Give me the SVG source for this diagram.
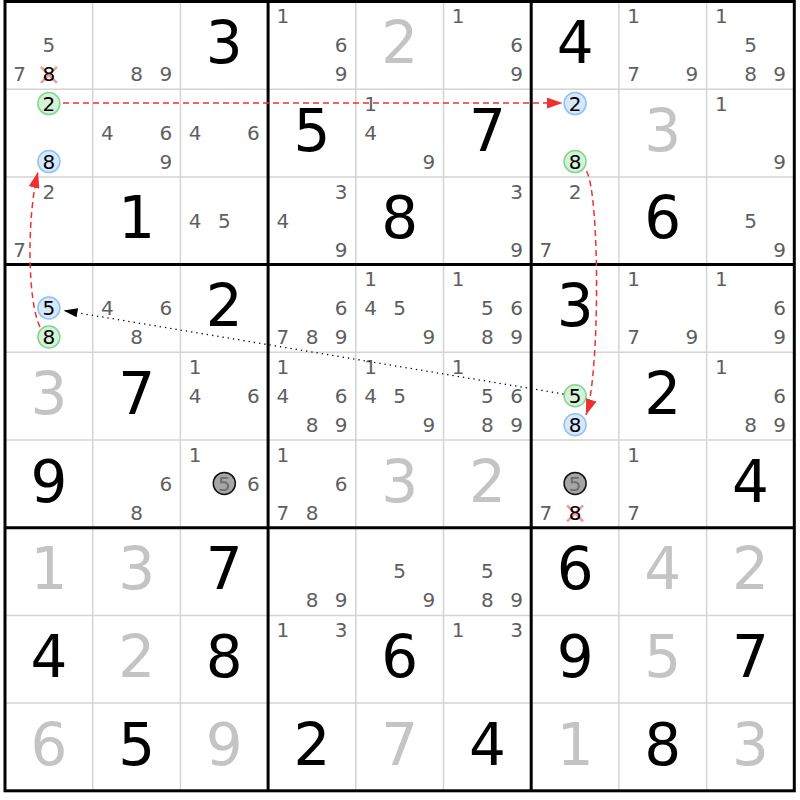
<svg xmlns="http://www.w3.org/2000/svg" width="800" height="800" viewBox="0 0 800 800">
<style>
text{font-family:"DejaVu Sans","Liberation Sans",sans-serif;text-anchor:middle}
.g{font-size:58px;fill:#000}
.s{font-size:58px;fill:#c4c4c4}
.c{font-size:20px;fill:#5f5f5f}
.k{font-size:20px;fill:#000}
.gc{font-size:20px;fill:#6e6e6e}
.thin{stroke:#d4d4d4;stroke-width:1.5}
.thick{stroke:#000;stroke-width:3}
.cg{fill:#d5f2d8;stroke:#7fd68f;stroke-width:1.5}
.cb{fill:#d6e8fb;stroke:#8fc1f2;stroke-width:1.5}
.cx{fill:#a6a6a6;stroke:#111;stroke-width:1.5}
.x{stroke:#f29a9a;stroke-width:2.5}
.red{fill:none;stroke:#f03030;stroke-width:1.5;stroke-dasharray:6 4}
.dot{fill:none;stroke:#000;stroke-width:1.3;stroke-dasharray:1.3 4}
</style>
<defs>
<marker id="ar" markerUnits="userSpaceOnUse" markerWidth="16" markerHeight="11" refX="16" refY="5.5" orient="auto"><path d="M0,0 L16,5.5 L0,11 z" fill="#f03030"/></marker>
<marker id="ab" markerUnits="userSpaceOnUse" markerWidth="14" markerHeight="9" refX="14" refY="4.5" orient="auto"><path d="M0,0 L14,4.5 L0,9 z" fill="#000"/></marker>
</defs>
<rect width="800" height="800" fill="#fff"/>
<g id="grid">
<path class="thin" d="M92.7,1.5V790.8M180.4,1.5V790.8M355.8,1.5V790.8M443.5,1.5V790.8M618.9,1.5V790.8M706.6,1.5V790.8M5,89.2H794.3M5,176.9H794.3M5,352.3H794.3M5,440H794.3M5,615.4H794.3M5,703.1H794.3"/>
<path class="thick" d="M268.1,1.5V790.8M531.2,1.5V790.8M5,264.6H794.3M5,527.7H794.3"/>
<rect class="thick" x="5" y="1.5" width="789.3" height="789.3" fill="none"/>
</g>
<g id="cells">
<!-- row 0 -->
<g id="r0c0" transform="translate(5,1.5)"><text class="c" x="43.9" y="50.7">5</text><text class="c" x="14.7" y="79.7">7</text><path class="x" d="M35.9,65.4L51.9,81.4M51.9,65.4L35.9,81.4"/><text class="k" x="43.9" y="79.7">8</text></g>
<g id="r0c1" transform="translate(92.7,1.5)"><text class="c" x="43.9" y="79.7">8</text><text class="c" x="73.1" y="79.7">9</text></g>
<g id="r0c2" transform="translate(180.4,1.5)"><text class="g" x="43.9" y="61.5">3</text></g>
<g id="r0c3" transform="translate(268.1,1.5)"><text class="c" x="14.7" y="21.7">1</text><text class="c" x="73.1" y="50.7">6</text><text class="c" x="73.1" y="79.7">9</text></g>
<g id="r0c4" transform="translate(355.8,1.5)"><text class="s" x="43.9" y="61.5">2</text></g>
<g id="r0c5" transform="translate(443.5,1.5)"><text class="c" x="14.7" y="21.7">1</text><text class="c" x="73.1" y="50.7">6</text><text class="c" x="73.1" y="79.7">9</text></g>
<g id="r0c6" transform="translate(531.2,1.5)"><text class="g" x="43.9" y="61.5">4</text></g>
<g id="r0c7" transform="translate(618.9,1.5)"><text class="c" x="14.7" y="21.7">1</text><text class="c" x="14.7" y="79.7">7</text><text class="c" x="73.1" y="79.7">9</text></g>
<g id="r0c8" transform="translate(706.6,1.5)"><text class="c" x="14.7" y="21.7">1</text><text class="c" x="43.9" y="50.7">5</text><text class="c" x="43.9" y="79.7">8</text><text class="c" x="73.1" y="79.7">9</text></g>
<!-- row 1 -->
<g id="r1c0" transform="translate(5,89.2)"><circle class="cg" cx="43.9" cy="14.4" r="11"/><text class="k" x="43.9" y="21.7">2</text><circle class="cb" cx="43.9" cy="72.4" r="11"/><text class="k" x="43.9" y="79.7">8</text></g>
<g id="r1c1" transform="translate(92.7,89.2)"><text class="c" x="14.7" y="50.7">4</text><text class="c" x="73.1" y="50.7">6</text><text class="c" x="73.1" y="79.7">9</text></g>
<g id="r1c2" transform="translate(180.4,89.2)"><text class="c" x="14.7" y="50.7">4</text><text class="c" x="73.1" y="50.7">6</text></g>
<g id="r1c3" transform="translate(268.1,89.2)"><text class="g" x="43.9" y="61.5">5</text></g>
<g id="r1c4" transform="translate(355.8,89.2)"><text class="c" x="14.7" y="21.7">1</text><text class="c" x="14.7" y="50.7">4</text><text class="c" x="73.1" y="79.7">9</text></g>
<g id="r1c5" transform="translate(443.5,89.2)"><text class="g" x="43.9" y="61.5">7</text></g>
<g id="r1c6" transform="translate(531.2,89.2)"><circle class="cb" cx="43.9" cy="14.4" r="11"/><text class="k" x="43.9" y="21.7">2</text><circle class="cg" cx="43.9" cy="72.4" r="11"/><text class="k" x="43.9" y="79.7">8</text></g>
<g id="r1c7" transform="translate(618.9,89.2)"><text class="s" x="43.9" y="61.5">3</text></g>
<g id="r1c8" transform="translate(706.6,89.2)"><text class="c" x="14.7" y="21.7">1</text><text class="c" x="73.1" y="79.7">9</text></g>
<!-- row 2 -->
<g id="r2c0" transform="translate(5,176.9)"><text class="c" x="43.9" y="21.7">2</text><text class="c" x="14.7" y="79.7">7</text></g>
<g id="r2c1" transform="translate(92.7,176.9)"><text class="g" x="43.9" y="61.5">1</text></g>
<g id="r2c2" transform="translate(180.4,176.9)"><text class="c" x="14.7" y="50.7">4</text><text class="c" x="43.9" y="50.7">5</text></g>
<g id="r2c3" transform="translate(268.1,176.9)"><text class="c" x="73.1" y="21.7">3</text><text class="c" x="14.7" y="50.7">4</text><text class="c" x="73.1" y="79.7">9</text></g>
<g id="r2c4" transform="translate(355.8,176.9)"><text class="g" x="43.9" y="61.5">8</text></g>
<g id="r2c5" transform="translate(443.5,176.9)"><text class="c" x="73.1" y="21.7">3</text><text class="c" x="73.1" y="79.7">9</text></g>
<g id="r2c6" transform="translate(531.2,176.9)"><text class="c" x="43.9" y="21.7">2</text><text class="c" x="14.7" y="79.7">7</text></g>
<g id="r2c7" transform="translate(618.9,176.9)"><text class="g" x="43.9" y="61.5">6</text></g>
<g id="r2c8" transform="translate(706.6,176.9)"><text class="c" x="43.9" y="50.7">5</text><text class="c" x="73.1" y="79.7">9</text></g>
<!-- row 3 -->
<g id="r3c0" transform="translate(5,264.6)"><circle class="cb" cx="43.9" cy="43.4" r="11"/><text class="k" x="43.9" y="50.7">5</text><circle class="cg" cx="43.9" cy="72.4" r="11"/><text class="k" x="43.9" y="79.7">8</text></g>
<g id="r3c1" transform="translate(92.7,264.6)"><text class="c" x="14.7" y="50.7">4</text><text class="c" x="73.1" y="50.7">6</text><text class="c" x="43.9" y="79.7">8</text></g>
<g id="r3c2" transform="translate(180.4,264.6)"><text class="g" x="43.9" y="61.5">2</text></g>
<g id="r3c3" transform="translate(268.1,264.6)"><text class="c" x="73.1" y="50.7">6</text><text class="c" x="14.7" y="79.7">7</text><text class="c" x="43.9" y="79.7">8</text><text class="c" x="73.1" y="79.7">9</text></g>
<g id="r3c4" transform="translate(355.8,264.6)"><text class="c" x="14.7" y="21.7">1</text><text class="c" x="14.7" y="50.7">4</text><text class="c" x="43.9" y="50.7">5</text><text class="c" x="73.1" y="79.7">9</text></g>
<g id="r3c5" transform="translate(443.5,264.6)"><text class="c" x="14.7" y="21.7">1</text><text class="c" x="43.9" y="50.7">5</text><text class="c" x="73.1" y="50.7">6</text><text class="c" x="43.9" y="79.7">8</text><text class="c" x="73.1" y="79.7">9</text></g>
<g id="r3c6" transform="translate(531.2,264.6)"><text class="g" x="43.9" y="61.5">3</text></g>
<g id="r3c7" transform="translate(618.9,264.6)"><text class="c" x="14.7" y="21.7">1</text><text class="c" x="14.7" y="79.7">7</text><text class="c" x="73.1" y="79.7">9</text></g>
<g id="r3c8" transform="translate(706.6,264.6)"><text class="c" x="14.7" y="21.7">1</text><text class="c" x="73.1" y="50.7">6</text><text class="c" x="73.1" y="79.7">9</text></g>
<!-- row 4 -->
<g id="r4c0" transform="translate(5,352.3)"><text class="s" x="43.9" y="61.5">3</text></g>
<g id="r4c1" transform="translate(92.7,352.3)"><text class="g" x="43.9" y="61.5">7</text></g>
<g id="r4c2" transform="translate(180.4,352.3)"><text class="c" x="14.7" y="21.7">1</text><text class="c" x="14.7" y="50.7">4</text><text class="c" x="73.1" y="50.7">6</text></g>
<g id="r4c3" transform="translate(268.1,352.3)"><text class="c" x="14.7" y="21.7">1</text><text class="c" x="14.7" y="50.7">4</text><text class="c" x="73.1" y="50.7">6</text><text class="c" x="43.9" y="79.7">8</text><text class="c" x="73.1" y="79.7">9</text></g>
<g id="r4c4" transform="translate(355.8,352.3)"><text class="c" x="14.7" y="21.7">1</text><text class="c" x="14.7" y="50.7">4</text><text class="c" x="43.9" y="50.7">5</text><text class="c" x="73.1" y="79.7">9</text></g>
<g id="r4c5" transform="translate(443.5,352.3)"><text class="c" x="14.7" y="21.7">1</text><text class="c" x="43.9" y="50.7">5</text><text class="c" x="73.1" y="50.7">6</text><text class="c" x="43.9" y="79.7">8</text><text class="c" x="73.1" y="79.7">9</text></g>
<g id="r4c6" transform="translate(531.2,352.3)"><circle class="cg" cx="43.9" cy="43.4" r="11"/><text class="k" x="43.9" y="50.7">5</text><circle class="cb" cx="43.9" cy="72.4" r="11"/><text class="k" x="43.9" y="79.7">8</text></g>
<g id="r4c7" transform="translate(618.9,352.3)"><text class="g" x="43.9" y="61.5">2</text></g>
<g id="r4c8" transform="translate(706.6,352.3)"><text class="c" x="14.7" y="21.7">1</text><text class="c" x="73.1" y="50.7">6</text><text class="c" x="43.9" y="79.7">8</text><text class="c" x="73.1" y="79.7">9</text></g>
<!-- row 5 -->
<g id="r5c0" transform="translate(5,440)"><text class="g" x="43.9" y="61.5">9</text></g>
<g id="r5c1" transform="translate(92.7,440)"><text class="c" x="73.1" y="50.7">6</text><text class="c" x="43.9" y="79.7">8</text></g>
<g id="r5c2" transform="translate(180.4,440)"><text class="c" x="14.7" y="21.7">1</text><circle class="cx" cx="43.9" cy="43.4" r="11"/><text class="gc" x="43.9" y="50.7">5</text><text class="c" x="73.1" y="50.7">6</text></g>
<g id="r5c3" transform="translate(268.1,440)"><text class="c" x="14.7" y="21.7">1</text><text class="c" x="73.1" y="50.7">6</text><text class="c" x="14.7" y="79.7">7</text><text class="c" x="43.9" y="79.7">8</text></g>
<g id="r5c4" transform="translate(355.8,440)"><text class="s" x="43.9" y="61.5">3</text></g>
<g id="r5c5" transform="translate(443.5,440)"><text class="s" x="43.9" y="61.5">2</text></g>
<g id="r5c6" transform="translate(531.2,440)"><circle class="cx" cx="43.9" cy="43.4" r="11"/><text class="gc" x="43.9" y="50.7">5</text><text class="c" x="14.7" y="79.7">7</text><path class="x" d="M35.9,65.4L51.9,81.4M51.9,65.4L35.9,81.4"/><text class="k" x="43.9" y="79.7">8</text></g>
<g id="r5c7" transform="translate(618.9,440)"><text class="c" x="14.7" y="21.7">1</text><text class="c" x="14.7" y="79.7">7</text></g>
<g id="r5c8" transform="translate(706.6,440)"><text class="g" x="43.9" y="61.5">4</text></g>
<!-- row 6 -->
<g id="r6c0" transform="translate(5,527.7)"><text class="s" x="43.9" y="61.5">1</text></g>
<g id="r6c1" transform="translate(92.7,527.7)"><text class="s" x="43.9" y="61.5">3</text></g>
<g id="r6c2" transform="translate(180.4,527.7)"><text class="g" x="43.9" y="61.5">7</text></g>
<g id="r6c3" transform="translate(268.1,527.7)"><text class="c" x="43.9" y="79.7">8</text><text class="c" x="73.1" y="79.7">9</text></g>
<g id="r6c4" transform="translate(355.8,527.7)"><text class="c" x="43.9" y="50.7">5</text><text class="c" x="73.1" y="79.7">9</text></g>
<g id="r6c5" transform="translate(443.5,527.7)"><text class="c" x="43.9" y="50.7">5</text><text class="c" x="43.9" y="79.7">8</text><text class="c" x="73.1" y="79.7">9</text></g>
<g id="r6c6" transform="translate(531.2,527.7)"><text class="g" x="43.9" y="61.5">6</text></g>
<g id="r6c7" transform="translate(618.9,527.7)"><text class="s" x="43.9" y="61.5">4</text></g>
<g id="r6c8" transform="translate(706.6,527.7)"><text class="s" x="43.9" y="61.5">2</text></g>
<!-- row 7 -->
<g id="r7c0" transform="translate(5,615.4)"><text class="g" x="43.9" y="61.5">4</text></g>
<g id="r7c1" transform="translate(92.7,615.4)"><text class="s" x="43.9" y="61.5">2</text></g>
<g id="r7c2" transform="translate(180.4,615.4)"><text class="g" x="43.9" y="61.5">8</text></g>
<g id="r7c3" transform="translate(268.1,615.4)"><text class="c" x="14.7" y="21.7">1</text><text class="c" x="73.1" y="21.7">3</text></g>
<g id="r7c4" transform="translate(355.8,615.4)"><text class="g" x="43.9" y="61.5">6</text></g>
<g id="r7c5" transform="translate(443.5,615.4)"><text class="c" x="14.7" y="21.7">1</text><text class="c" x="73.1" y="21.7">3</text></g>
<g id="r7c6" transform="translate(531.2,615.4)"><text class="g" x="43.9" y="61.5">9</text></g>
<g id="r7c7" transform="translate(618.9,615.4)"><text class="s" x="43.9" y="61.5">5</text></g>
<g id="r7c8" transform="translate(706.6,615.4)"><text class="g" x="43.9" y="61.5">7</text></g>
<!-- row 8 -->
<g id="r8c0" transform="translate(5,703.1)"><text class="s" x="43.9" y="61.5">6</text></g>
<g id="r8c1" transform="translate(92.7,703.1)"><text class="g" x="43.9" y="61.5">5</text></g>
<g id="r8c2" transform="translate(180.4,703.1)"><text class="s" x="43.9" y="61.5">9</text></g>
<g id="r8c3" transform="translate(268.1,703.1)"><text class="g" x="43.9" y="61.5">2</text></g>
<g id="r8c4" transform="translate(355.8,703.1)"><text class="s" x="43.9" y="61.5">7</text></g>
<g id="r8c5" transform="translate(443.5,703.1)"><text class="g" x="43.9" y="61.5">4</text></g>
<g id="r8c6" transform="translate(531.2,703.1)"><text class="s" x="43.9" y="61.5">1</text></g>
<g id="r8c7" transform="translate(618.9,703.1)"><text class="g" x="43.9" y="61.5">8</text></g>
<g id="r8c8" transform="translate(706.6,703.1)"><text class="s" x="43.9" y="61.5">3</text></g>
</g>
<g id="connectors">
<path class="red" d="M63,103 L562.7,103" marker-end="url(#ar)"/>
<path class="red" d="M586.5,171 C600,195 600,375 586,415" marker-end="url(#ar)"/>
<path class="red" d="M40,327 C27,300 27,215 38,172" marker-end="url(#ar)"/>
<path class="dot" d="M563.5,394 L63.5,310.5" marker-end="url(#ab)"/>
</g>
</svg>
